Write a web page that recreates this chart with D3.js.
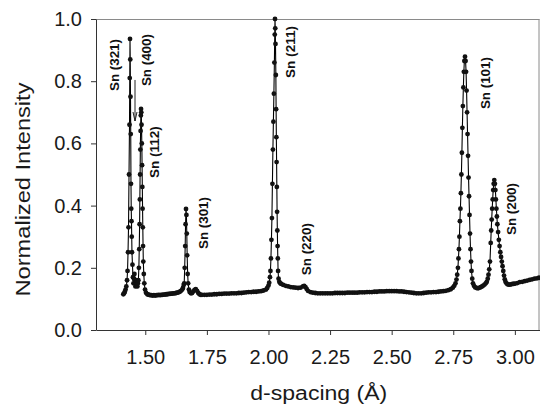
<!DOCTYPE html>
<html><head><meta charset="utf-8">
<script src="https://cdn.jsdelivr.net/npm/d3@7"></script>
<style>html,body{margin:0;padding:0;background:#fff;}</style>
</head><body><svg id="c" width="540" height="405"></svg>
<script>
// d-spacing (Å), normalized intensity
const pattern = [
[1.411,.115],[1.414,.118],[1.417,.123],[1.420,.130],[1.423,.140],[1.426,.160],[1.428,.190],[1.430,.250],[1.432,.330],[1.434,.500],[1.436,.660],[1.437,.810],[1.438,.936],[1.439,.870],[1.440,.750],[1.441,.630],[1.442,.470],[1.443,.390],[1.444,.350],[1.445,.300],[1.446,.250],[1.448,.210],[1.450,.170],[1.452,.150],[1.454,.165],[1.456,.180],[1.458,.160],[1.460,.140],[1.462,.150],[1.464,.160],[1.466,.145],[1.468,.140],[1.470,.150],
[1.472,.160],[1.474,.200],[1.4755,.260],[1.477,.340],[1.478,.420],[1.479,.500],[1.480,.580],[1.481,.640],[1.482,.690],[1.4828,.711],[1.4838,.700],[1.4848,.660],[1.486,.600],[1.487,.530],[1.488,.460],[1.489,.390],[1.490,.330],[1.491,.270],[1.492,.220],[1.494,.180],[1.496,.150],[1.499,.130],[1.503,.120],[1.508,.115],
[1.512,.114],[1.516,.113],[1.520,.112],[1.525,.112],[1.530,.111],[1.535,.112],[1.540,.111],[1.545,.112],[1.550,.112],[1.555,.113],[1.560,.112],[1.565,.113],[1.570,.113],[1.575,.114],[1.580,.114],[1.585,.115],[1.590,.115],[1.595,.116],[1.600,.116],[1.605,.117],[1.610,.117],[1.615,.118],[1.620,.118],[1.625,.119],[1.630,.120],[1.635,.121],[1.640,.123],[1.645,.126],[1.650,.130],[1.653,.135],[1.656,.145],
[1.658,.150],[1.660,.200],[1.662,.270],[1.6635,.340],[1.6653,.389],[1.667,.370],[1.6685,.310],[1.670,.240],[1.672,.180],[1.674,.150],[1.677,.130],[1.680,.122],[1.685,.118],[1.690,.119],[1.695,.124],[1.700,.129],[1.705,.131],[1.710,.126],[1.715,.119],[1.720,.115],[1.725,.113],
[1.730,.113],[1.740,.113],[1.750,.113],[1.760,.114],[1.770,.114],[1.780,.115],[1.790,.115],[1.800,.116],[1.810,.116],[1.820,.117],[1.830,.117],[1.840,.117],[1.850,.118],[1.860,.118],[1.870,.118],[1.880,.119],[1.890,.119],[1.900,.120],[1.910,.121],[1.920,.122],[1.930,.122],[1.940,.123],[1.950,.123],[1.960,.124],[1.970,.125],[1.980,.127],[1.990,.130],[1.995,.135],[2.000,.143],[2.003,.152],
[2.006,.170],[2.008,.190],[2.010,.230],[2.012,.290],[2.014,.360],[2.016,.470],[2.018,.580],[2.020,.670],[2.022,.760],[2.024,.860],[2.0255,.950],[2.0265,1.000],[2.0275,.970],[2.0285,.920],[2.030,.820],[2.031,.710],[2.032,.620],[2.033,.540],[2.034,.460],[2.035,.380],[2.036,.320],[2.037,.270],[2.038,.230],[2.039,.190],[2.041,.165],[2.044,.155],[2.048,.150],
[2.052,.148],[2.060,.145],[2.070,.142],[2.080,.140],[2.090,.138],[2.100,.137],[2.110,.136],[2.120,.135],[2.130,.136],[2.140,.140],[2.145,.142],[2.150,.138],[2.155,.132],[2.160,.126],[2.170,.122],[2.180,.120],[2.190,.119],[2.200,.118],[2.210,.118],[2.220,.118],[2.230,.118],[2.240,.118],[2.250,.118],[2.260,.118],[2.270,.119],[2.280,.119],[2.290,.119],[2.300,.119],[2.310,.119],[2.320,.120],[2.330,.120],[2.340,.120],[2.350,.120],[2.360,.120],[2.370,.121],[2.380,.121],[2.390,.121],[2.400,.122],[2.410,.122],[2.420,.122],[2.430,.123],[2.440,.123],[2.450,.124],[2.460,.124],[2.470,.124],[2.480,.125],[2.490,.125],[2.500,.125],[2.510,.125],[2.520,.125],[2.530,.124],[2.540,.124],[2.550,.123],[2.560,.122],[2.570,.121],[2.580,.120],[2.590,.119],[2.600,.118],[2.610,.118],[2.620,.118],[2.630,.119],[2.640,.120],[2.650,.121],[2.660,.121],[2.670,.122],[2.680,.122],[2.690,.123],[2.700,.124],[2.710,.125],[2.720,.126],[2.730,.128],[2.740,.131],[2.748,.136],[2.754,.142],[2.759,.150],[2.763,.162],
[2.766,.178],[2.769,.200],[2.771,.230],[2.773,.260],[2.775,.300],[2.777,.350],[2.779,.390],[2.781,.440],[2.783,.500],[2.785,.570],[2.787,.650],[2.789,.720],[2.791,.780],[2.793,.830],[2.795,.865],[2.7976,.879],[2.800,.865],[2.802,.830],[2.804,.770],[2.806,.700],[2.808,.630],[2.810,.560],[2.812,.490],[2.814,.430],[2.816,.370],[2.818,.310],[2.820,.260],[2.822,.220],[2.824,.190],[2.827,.165],[2.830,.150],[2.834,.142],[2.839,.137],[2.845,.135],[2.851,.134],[2.857,.136],[2.862,.138],[2.867,.140],[2.872,.143],[2.877,.146],[2.882,.150],
[2.886,.155],[2.890,.165],[2.893,.178],[2.896,.195],[2.899,.220],[2.902,.280],[2.904,.320],[2.906,.355],[2.908,.390],[2.910,.420],[2.912,.450],[2.914,.470],[2.9165,.482],[2.919,.470],[2.921,.450],[2.923,.420],[2.925,.390],[2.927,.365],[2.929,.340],[2.932,.315],[2.935,.290],[2.938,.270],[2.941,.250],[2.944,.235],[2.947,.220],[2.950,.205],[2.953,.190],[2.956,.175],[2.959,.163],[2.962,.155],[2.966,.150],[2.970,.147],[2.975,.146],[2.980,.146],[2.985,.147],[2.990,.148],[2.995,.148],[3.000,.149],[3.010,.151],[3.020,.154],[3.030,.155],[3.040,.157],[3.050,.159],[3.060,.161],[3.070,.163],[3.080,.165],[3.090,.166],[3.098,.168]
];

const xTicks = [1.50, 1.75, 2.00, 2.25, 2.50, 2.75, 3.00];
const yTicks = [0.0, 0.2, 0.4, 0.6, 0.8, 1.0];
const xTitle = "d-spacing (Å)";
const yTitle = "Normalized Intensity";

// peak annotations: label text and anchor (d, intensity)
const peakNames = ["Sn (321)", "Sn (400)", "Sn (112)", "Sn (301)", "Sn (211)", "Sn (220)", "Sn (101)", "Sn (200)"];
const peakLabelD = [1.3925, 1.5224, 1.5549, 1.7537, 2.1068, 2.1718, 2.8982, 3.0058];
const peakLabelV = [0.852, 0.868, 0.572, 0.344, 0.894, 0.260, 0.794, 0.389];
const arrowD = 1.4583;
const arrowV = [0.804, 0.672];

const svg = d3.select("#c");
const L = 96, R = 539.5, T = 19, B = 330;
const x = d3.scaleLinear().domain([1.3, 3.1]).range([L, R]);
const y = d3.scaleLinear().domain([0, 1]).range([B, T]);

const font = "'Liberation Sans', Arial, Helvetica, sans-serif";

// frame: top and right
svg.append("line").attr("x1", L).attr("x2", R).attr("y1", T + 0.5).attr("y2", T + 0.5)
  .attr("stroke", "#8a8a8a").attr("stroke-width", 1);
svg.append("line").attr("x1", R - 0.5).attr("x2", R - 0.5).attr("y1", T).attr("y2", B)
  .attr("stroke", "#8a8a8a").attr("stroke-width", 1);

// axes
const gx = svg.append("g").attr("transform", `translate(0,${B})`)
  .call(d3.axisBottom(x).tickValues(xTicks).tickFormat(d3.format(".2f")).tickSize(5).tickSizeOuter(0).tickPadding(15));
const gy = svg.append("g").attr("transform", `translate(${L},0)`)
  .call(d3.axisLeft(y).tickValues(yTicks).tickFormat(d3.format(".1f")).tickSize(5).tickSizeOuter(0).tickPadding(9));
[gx, gy].forEach(g => {
  g.select(".domain").attr("stroke", "#333");
  g.selectAll(".tick line").attr("stroke", "#333");
  g.selectAll(".tick text").attr("fill", "#1a1a1a").style("font-family", font).style("font-size", "20px");
});

// titles
svg.append("text").attr("x", (L + R) / 2 + 1).attr("y", 400)
  .attr("text-anchor", "middle").attr("textLength", 137).attr("lengthAdjust", "spacingAndGlyphs")
  .style("font-family", font).style("font-size", "20px").attr("fill", "#1a1a1a").text(xTitle);
svg.append("text").attr("transform", `translate(29.5,${(T + B) / 2 + 15}) rotate(-90)`)
  .attr("text-anchor", "middle").attr("textLength", 214).attr("lengthAdjust", "spacingAndGlyphs")
  .style("font-family", font).style("font-size", "20px").attr("fill", "#1a1a1a").text(yTitle);

// data
const line = d3.line().x(d => x(d[0])).y(d => y(d[1]));
svg.append("path").datum(pattern).attr("d", line)
  .attr("fill", "none").attr("stroke", "#000").attr("stroke-width", 1.1);
svg.append("g").selectAll("circle").data(pattern).join("circle")
  .attr("cx", d => x(d[0])).attr("cy", d => y(d[1])).attr("r", 2.4).attr("fill", "#111");

// labels
svg.append("g").selectAll("text").data(peakNames).join("text")
  .attr("transform", (d, i) => `translate(${x(peakLabelD[i])},${y(peakLabelV[i])}) rotate(-90)`)
  .attr("text-anchor", "middle").attr("textLength", 52).attr("lengthAdjust", "spacingAndGlyphs")
  .style("font-family", font).style("font-size", "12px").style("font-weight", "bold")
  .attr("fill", "#111").text(d => d);

// arrow for Sn (400)
const ax = x(arrowD), ay0 = y(arrowV[0]), ay1 = y(arrowV[1]);
svg.append("line").attr("x1", ax).attr("x2", ax).attr("y1", ay0).attr("y2", ay1)
  .attr("stroke", "#222").attr("stroke-width", 1);
svg.append("path").attr("d", `M${ax - 2},${ay1 - 9}L${ax},${ay1}L${ax + 2},${ay1 - 9}`)
  .attr("fill", "none").attr("stroke", "#222").attr("stroke-width", 1);
</script>
</body></html>
